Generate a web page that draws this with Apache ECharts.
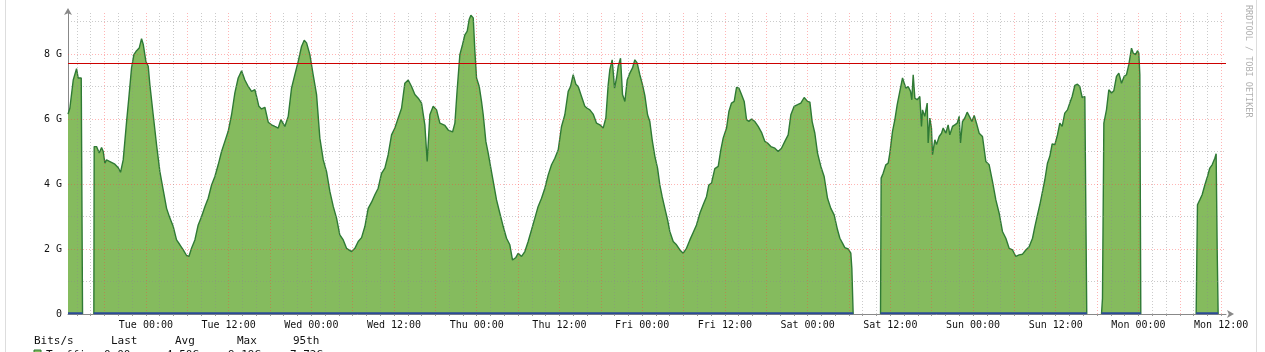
<!DOCTYPE html>
<html><head><meta charset="utf-8">
<script src="https://cdn.jsdelivr.net/npm/echarts@6/dist/echarts.min.js"></script>
<style>html,body{margin:0;padding:0;background:#fff}#c{width:1265px;height:352px}</style>
</head><body><div id="c"></div>
<script>
// ---- data (hours relative to Tue 00:00, values in Gbit/s) ----
const xMin = -11.3, xMax = 156.7;
const tickHours = [0,12,24,36,48,60,72,84,96,108,120,132,144,156];
const tickLabels = ['Tue 00:00','Tue 12:00','Wed 00:00','Wed 12:00','Thu 00:00','Thu 12:00','Fri 00:00','Fri 12:00','Sat 00:00','Sat 12:00','Sun 00:00','Sun 12:00','Mon 00:00','Mon 12:00'];
const yTickValues = [0,2,4,6,8];
const yTickLabels = ['0','2 G','4 G','6 G','8 G'];
const percentile95 = 7.72;
const legendHeader = ['Bits/s','Last','Avg','Max','95th'];
const legendRow = ['Traffic','0.00','4.50G','9.19G','7.72G'];

const hours = [
-11.3,-11.03,-10.54,-10.06,-9.96,-9.82,-9.57,-9.38,-9.19,-9.1,-7.55,-7.5,-7.16,-6.77,-6.43,-6.19,-5.95,-5.71,-5.22,-4.98,-4.5,-4.01,-3.68,-3.29,-2.8,-2.47,-2.08,-1.74,-1.35,-0.97,-0.63,-0.39,0,0.34,0.58,1.06,1.55,2.03,2.51,3.0,3.48,3.97,4.45,4.93,5.42,5.9,6.24,6.62,7.11,7.59,8.08,8.56,9.04,9.53,10.01,10.49,10.98,11.46,11.94,12.43,12.91,13.39,13.88,14.36,14.85,15.33,
15.81,16.05,16.39,16.78,17.26,17.75,18.23,18.71,19.2,19.58,20.16,20.65,21.13,21.61,22.1,22.58,22.97,23.31,23.79,24.27,24.76,25.24,25.73,26.21,26.69,27.18,27.66,28.14,28.63,29.11,29.84,30.32,30.8,31.29,31.77,32.25,32.74,33.22,33.7,34.19,34.67,35.15,35.64,36.12,36.61,37.09,37.57,38.06,38.54,39.02,39.51,39.99,40.47,40.81,41.2,41.68,42.17,42.65,43.38,43.86,
44.1,44.49,44.83,45.16,45.55,45.94,46.28,46.62,46.9,47.15,47.49,47.73,47.97,48.36,48.69,48.94,49.32,49.66,50.0,50.39,50.87,51.35,51.84,52.32,52.8,53.19,53.68,54.01,54.5,54.98,55.46,55.95,56.43,56.91,57.4,57.88,58.37,58.85,59.33,59.82,60.3,60.78,61.27,61.61,61.99,62.38,62.72,63.2,63.68,64.02,64.41,64.89,65.38,65.86,66.34,66.73,67.07,67.31,67.65,67.99,68.28,68.52,68.86,69.15,69.49,69.83,70.21,70.6,70.94,71.28,71.66,72.05,
72.39,72.78,73.11,73.45,73.84,74.23,74.56,74.9,75.29,75.68,76.01,76.5,76.98,77.47,77.95,78.43,78.92,79.4,79.88,80.37,80.85,81.33,81.67,82.06,82.54,83.03,83.41,83.75,84.24,84.58,84.96,85.35,85.69,86.03,86.41,86.8,87.14,87.48,87.86,88.35,88.83,89.31,89.8,90.18,90.67,91.25,91.73,92.21,92.7,93.18,93.57,94.05,94.54,95.02,95.5,95.99,96.33,96.66,97.05,97.44,97.92,98.4,98.89,99.37,99.85,100.34,
100.68,101.06,101.4,101.89,102.27,102.42,102.61,102.7,106.58,106.67,106.96,107.35,107.69,107.93,108.32,108.66,109.0,109.38,109.77,110.01,110.25,110.59,110.93,111.12,111.32,111.56,111.9,112.28,112.52,112.67,113.0,113.35,113.49,113.73,113.97,114.12,114.46,114.7,115.09,115.43,115.67,116.05,116.39,116.63,117.02,117.36,117.7,117.99,118.18,118.47,118.81,119.15,119.54,119.83,120.17,120.5,120.89,121.37,121.86,122.34,122.82,123.31,123.79,124.27,124.76,125.24,125.73,126.21,126.69,127.18,127.66,128.14,128.63,
128.97,129.35,129.69,130.03,130.42,130.8,131.14,131.48,131.87,132.25,132.59,132.93,133.31,133.7,134.04,134.38,134.77,135.15,135.49,135.83,136.22,136.36,136.5,136.6,138.64,138.78,138.98,139.36,139.7,140.09,140.43,140.81,141.15,141.54,141.92,142.26,142.6,142.99,143.23,143.57,143.86,144.05,144.2,144.34,144.4,152.37,152.56,152.9,153.24,153.63,154.01,154.35,154.69,155.08,155.27,155.42,155.56
];
const inbound = [
6.15,6.33,7.2,7.55,7.59,7.26,7.3,7.26,0,null,0,5.15,5.15,4.95,5.12,5.0,4.64,4.74,4.69,4.74,4.61,4.5,4.36,4.74,5.92,6.66,7.57,7.98,8.1,8.18,8.47,8.3,7.77,7.62,7.05,6.13,5.2,4.38,3.82,3.25,2.95,2.69,2.28,2.13,1.97,1.8,1.77,2.02,2.28,2.74,3.0,3.3,3.56,3.97,4.23,4.59,5.0,5.31,5.62,6.13,6.8,7.26,7.48,7.2,7.0,6.85,
6.9,6.7,6.39,6.31,6.36,5.9,5.82,5.77,5.72,5.98,5.77,6.08,6.95,7.36,7.77,8.23,8.42,8.34,7.98,7.36,6.75,5.41,4.74,4.38,3.77,3.31,2.95,2.43,2.28,2.02,1.92,2.02,2.23,2.35,2.69,3.25,3.44,3.67,3.87,4.33,4.49,4.9,5.51,5.72,6.03,6.33,7.1,7.2,7.0,6.75,6.64,6.49,5.82,4.69,6.13,6.39,6.28,5.87,5.8,5.66,
5.67,5.6,5.87,6.9,7.98,8.29,8.59,8.7,9.06,9.19,9.11,8.08,7.26,7.0,6.54,6.13,5.31,4.95,4.54,4.08,3.51,3.1,2.69,2.33,2.13,1.66,1.74,1.87,1.77,1.92,2.23,2.59,2.95,3.31,3.56,3.87,4.28,4.59,4.79,5.05,5.77,6.13,6.85,7.0,7.36,7.07,7.0,6.69,6.39,6.33,6.28,6.15,5.87,5.82,5.72,6.03,7.05,7.52,7.82,6.95,7.26,7.62,7.87,6.75,6.54,7.2,7.41,7.57,7.82,7.72,7.36,7.05,
6.72,6.13,5.92,5.36,4.85,4.49,3.97,3.61,3.25,2.9,2.54,2.23,2.13,1.97,1.87,2.02,2.28,2.51,2.74,3.1,3.36,3.61,3.97,4.03,4.47,4.54,5.05,5.41,5.72,6.23,6.49,6.54,6.97,6.95,6.75,6.54,5.98,5.92,6.0,5.92,5.77,5.59,5.31,5.26,5.15,5.1,5.0,5.1,5.31,5.51,6.13,6.39,6.44,6.49,6.66,6.54,6.52,5.92,5.56,4.95,4.54,4.23,3.56,3.25,3.05,2.59,
2.33,2.18,2.04,2.0,1.87,1.4,0,null,0,4.18,4.33,4.59,4.64,4.95,5.62,5.98,6.44,6.85,7.26,7.31,6.95,7.0,6.85,6.59,7.36,6.64,6.59,6.69,5.77,6.28,6.08,6.49,5.26,6.03,5.72,4.9,5.36,5.21,5.46,5.56,5.72,5.56,5.82,5.51,5.77,5.82,5.87,6.08,5.26,5.92,6.03,6.21,6.05,5.92,6.11,5.87,5.56,5.46,4.69,4.59,4.08,3.51,3.1,2.54,2.33,2.02,1.97,1.77,1.82,1.84,1.97,2.07,2.33,
2.69,3.05,3.36,3.72,4.13,4.64,4.85,5.23,5.21,5.51,5.87,5.77,6.18,6.28,6.49,6.69,7.03,7.07,7.0,6.66,6.69,6.64,0,null,0,0.48,5.87,6.28,6.9,6.8,6.87,7.31,7.41,7.1,7.31,7.36,7.67,8.18,8.03,7.98,8.1,8.03,7.36,0,null,0,3.36,3.51,3.67,3.97,4.23,4.49,4.59,4.79,4.93,2.0,0
];
// outbound traffic: essentially zero where data exists
const outboundHours = [-11.3,-9.19,-9.1,-7.55,102.61,102.7,106.58,136.5,136.6,138.64,144.34,144.4,152.37,155.56];
const outbound = [0.02,0.02,null,0.02,0.02,null,0.02,0.02,null,0.02,0.02,null,0.02,0.02];

const zip = (xs, ys) => xs.map((x, i) => [x, ys[i]]);
const minorX = [], majorX = [];
for (let h = -10; h <= 156; h += 2) { (h % 6 === 0 ? majorX : minorX).push(h); }
const minorY = [1,3,5,7,9], majorY = [2,4,6,8];

const MONO = '"DejaVu Sans Mono", monospace';
const chart = echarts.init(document.getElementById('c'), null, {renderer: 'canvas'});
const gridLine = (vals, color) => ({
  show: true, type: 'value', min: xMin, max: xMax, z: 3,
  axisLine: {show: false}, axisLabel: {show: false},
  axisTick: {show: false, customValues: vals},
  splitLine: {show: true, lineStyle: {color: color, width: 1, type: [1, 2]}}
});
const gridLineY = (vals, color) => ({
  show: true, type: 'value', min: 0, max: 9.26, z: 3,
  axisLine: {show: false}, axisLabel: {show: false},
  axisTick: {show: false, customValues: vals},
  splitLine: {show: true, lineStyle: {color: color, width: 1, type: [1, 2]}}
});
const txt = (x, y, s, extra) => Object.assign({type: 'text', x: x, y: y, silent: true,
  style: {text: s, font: '11px ' + MONO, fill: '#111', textVerticalAlign: 'middle'}}, extra || {});

chart.setOption({
  animation: false,
  backgroundColor: '#fff',
  grid: {left: 68, right: 39, top: 13, bottom: 38, containLabel: false, outerBoundsMode: 'none'},
  xAxis: [
    {type: 'value', min: xMin, max: xMax, position: 'bottom', z: 1,
     axisLine: {show: true, onZero: false, lineStyle: {color: '#888', width: 1},
       symbol: ['none', 'arrow'], symbolSize: [6, 7], symbolOffset: [0, 8]},
     axisTick: {show: true, length: 2, customValues: minorX.concat(majorX).sort((a,b)=>a-b), lineStyle: {color: '#999'}},
     axisLabel: {show: true, customValues: tickHours, margin: 6, color: '#111',
       fontFamily: MONO, fontSize: 10,
       formatter: v => tickLabels[tickHours.indexOf(Math.round(v))] || ''},
     splitLine: {show: false}},
    gridLine(minorX, 'rgba(140,140,140,0.45)'),
    gridLine(majorX, 'rgba(255,60,60,0.38)')
  ],
  yAxis: [
    {type: 'value', min: 0, max: 9.26, z: 1, position: 'left',
     axisLine: {show: true, onZero: false, lineStyle: {color: '#888', width: 1},
       symbol: ['none', 'arrow'], symbolSize: [6, 7], symbolOffset: [0, 5]},
     axisTick: {show: false, customValues: yTickValues},
     axisLabel: {show: true, customValues: yTickValues, margin: 6, color: '#111',
       fontFamily: MONO, fontSize: 10,
       formatter: v => yTickLabels[yTickValues.indexOf(Math.round(v))] || ''},
     splitLine: {show: false}},
    gridLineY(minorY, 'rgba(140,140,140,0.45)'),
    gridLineY(majorY, 'rgba(255,60,60,0.38)')
  ],
  series: [
    {type: 'line', name: 'Inbound', xAxisIndex: 0, yAxisIndex: 0, z: 2,
     data: zip(hours, inbound), showSymbol: false, connectNulls: false,
     lineStyle: {color: '#2f7a35', width: 1.4},
     areaStyle: {color: '#85bb5e', opacity: 1}},
    {type: 'line', name: 'Outbound', xAxisIndex: 0, yAxisIndex: 0, z: 4,
     data: zip(outboundHours, outbound), showSymbol: false, connectNulls: false,
     lineStyle: {color: '#2b4b96', width: 2}},
    {type: 'line', name: '95th', xAxisIndex: 0, yAxisIndex: 0, z: 5, data: [],
     markLine: {silent: true, symbol: 'none', label: {show: false},
       lineStyle: {color: '#cc0000', width: 1, type: 'solid'},
       data: [{yAxis: percentile95}]}}
  ],
  graphic: [
    {type: 'rect', z: -10, silent: true, shape: {x: 5.5, y: -20, width: 1251, height: 400, r: 8},
     style: {fill: 'none', stroke: '#dddddd', lineWidth: 1}},
    {type: 'text', x: 1248, y: 5, rotation: -Math.PI / 2, silent: true,
     style: {text: 'RRDTOOL / TOBI OETIKER', font: '8.5px ' + MONO, fill: '#b0b0b0',
       textAlign: 'left', textVerticalAlign: 'middle'}},
    txt(34, 341, legendHeader[0]), txt(111, 341, legendHeader[1]), txt(175, 341, legendHeader[2]),
    txt(237, 341, legendHeader[3]), txt(293, 341, legendHeader[4]),
    {type: 'rect', silent: true, shape: {x: 34, y: 350, width: 7, height: 7}, style: {fill: '#85bb5e', stroke: '#2f7a35'}},
    txt(46, 355, legendRow[0]), txt(104, 355, legendRow[1]), txt(166, 355, legendRow[2]),
    txt(228, 355, legendRow[3]), txt(290, 355, legendRow[4])
  ]
});
</script></body></html>
